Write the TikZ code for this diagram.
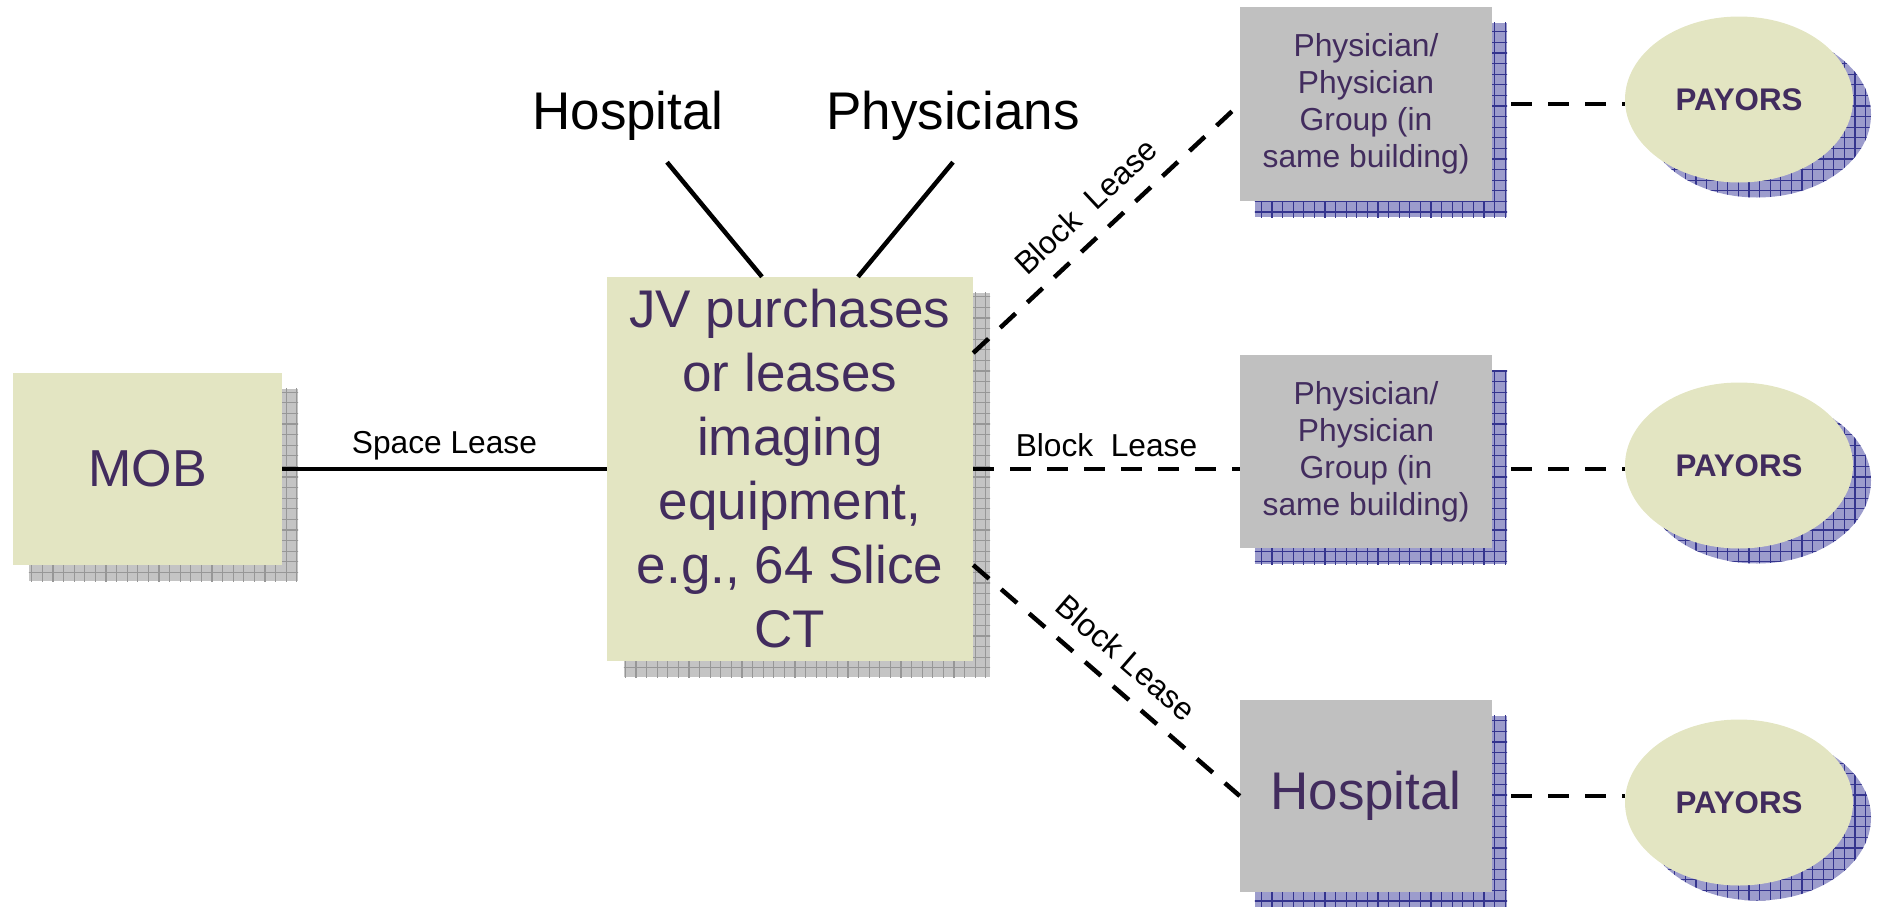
\documentclass[tikz,border=0pt]{standalone}
\usepackage{fontspec}
\setmainfont{Liberation Sans}
\usetikzlibrary{calc,backgrounds,shapes.geometric}

\definecolor{paleolive}{HTML}{E3E5C2}
\definecolor{boxgray}{HTML}{C0C0C0}
\definecolor{inkpurple}{HTML}{422C5E}
\definecolor{shgraybase}{HTML}{C4C4C4}
\definecolor{shgrayline}{HTML}{979797}
\definecolor{shbluebase}{HTML}{9C9CCC}
\definecolor{shblueline}{HTML}{34348E}

\tikzset{
  fs/.style 2 args={font=\fontsize{#1}{#2}\selectfont},
  panel/.style={rectangle, inner sep=0pt, align=center, text=inkpurple},
  olivebox/.style={panel, fill=paleolive},
  graybox/.style={panel, fill=boxgray, minimum width=252pt},
  payor/.style={ellipse, fill=paleolive, minimum width=228pt, minimum height=166pt,
    inner sep=0pt, text=inkpurple, font=\fontsize{31.3}{36}\selectfont\bfseries},
  gridfill/.style 2 args={fill=#1, path picture={
    \draw[#2, line width=1.2pt]
      ([shift={(-12pt,-12pt)}]path picture bounding box.south west) grid[step=10.6pt]
      ([shift={(12pt,12pt)}]path picture bounding box.north east);}},
  solidlink/.style={line width=4.5pt},
  dashlink/.style={line width=4.5pt, dash pattern=on 21pt off 16pt},
  leaselabel/.style={inner sep=0pt, anchor=base, fs={31.7}{36}},
  toplabel/.style={inner sep=0pt, anchor=base, fs={53}{60}},
}

\begin{document}
\begin{tikzpicture}[x=1pt, y=-1pt]
\useasboundingbox (0,0) rectangle (1885,906);

% boxes
\node[olivebox, minimum width=269pt, minimum height=192pt, fs={52}{60}] (mob) at (147.5,469) {MOB};
\node[olivebox, minimum width=366pt, minimum height=384pt, fs={53}{64}] (jv) at (790,469)
  {JV purchases\\or leases\\imaging\\equipment,\\e.g., 64 Slice\\CT};
\node[graybox, minimum height=194pt, fs={31.8}{37}] (phys1) at (1366,104)
  {Physician/\\Physician\\Group (in\\same building)};
\node[graybox, minimum height=193pt, fs={31.8}{37}] (phys2) at (1366,451.5)
  {Physician/\\Physician\\Group (in\\same building)};
\node[graybox, minimum height=192pt, fs={53}{60}] (hosp) at (1366,796) {Hospital};

\node[payor] (pay1) at (1739,99.5) {PAYORS};
\node[payor] (pay2) at (1739,465.5) {PAYORS};
\node[payor] (pay3) at (1739,802.5) {PAYORS};

% owners of the joint venture
\node[toplabel] (hlab) at (628,129) {Hospital};
\node[toplabel] (plab) at (953,129) {Physicians};

% drop shadows
\begin{scope}[on background layer]
  \path[gridfill={shgraybase}{shgrayline}] ($(mob.north west)+(16,16)$) rectangle ($(mob.south east)+(16,16)$);
  \path[gridfill={shgraybase}{shgrayline}] ($(jv.north west)+(17,16)$) rectangle ($(jv.south east)+(17,16)$);
  \foreach \b in {phys1,phys2,hosp}
    \path[gridfill={shbluebase}{shblueline}] ($(\b.north west)+(15,16)$) rectangle ($(\b.south east)+(15,16)$);
  \foreach \p in {pay1,pay2,pay3}
    \path[gridfill={shbluebase}{shblueline}] ($(\p.center)+(18,15)$) ellipse [x radius=114pt, y radius=83pt];
\end{scope}

% connectors
\draw[solidlink] ($(hlab.south)+(39,22)$) -- ($(jv.north)+(-28,0)$);
\draw[solidlink] ($(plab.south)+(0,22)$) -- ($(jv.north)+(68,0)$);

\draw[solidlink] (mob.east) -- node[leaselabel, midway, yshift=16pt] {Space Lease} (jv.west);

\draw[dashlink] ($(jv.east)+(0,-116)$) -- node[leaselabel, midway, sloped, yshift=19pt] {Block\ \ Lease} (phys1.west);
\draw[dashlink] (jv.east) -- node[leaselabel, midway, yshift=13pt] {Block\ \ Lease} (phys2.west |- jv.east);
\draw[dashlink] ($(jv.east)+(0,96)$) -- node[leaselabel, midway, sloped, yshift=19pt] {Block Lease} (hosp.west);

\draw[dashlink] ($(phys1.east)+(19,0)$) -- (pay1.west |- phys1.east);
\draw[dashlink] ($(phys2.east)+(19,17.5)$) -- (pay2.west |- {$(phys2.east)+(0,17.5)$});
\draw[dashlink] ($(hosp.east)+(19,0)$) -- (pay3.west |- hosp.east);
\end{tikzpicture}
\end{document}
